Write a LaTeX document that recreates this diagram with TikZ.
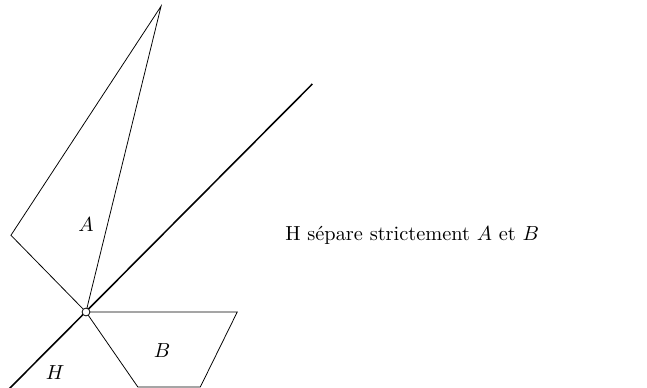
\documentclass[tikz,border=0pt]{standalone}
\usepackage{amsmath}
\usepackage{tikz}
\usetikzlibrary{positioning}

\begin{document}
\begin{tikzpicture}[every node/.append style={scale=1.05}]
        \useasboundingbox (-1.558,-1.359) rectangle (10.163,5.652);
        \coordinate (o) at (0,0);
        \coordinate (a1) at (1.36,5.54);
        \coordinate (a2) at (-1.36,1.39);
        \coordinate (b1) at (2.74,0);
        \coordinate (b2) at (2.07,-1.36);
        \coordinate (b3) at (0.94,-1.36);
        \coordinate (h1) at (-1.40,-1.40);
        \coordinate (h2) at (4.10,4.13);

        \draw (o) -- (a1) -- (a2) -- cycle;
        \draw (o) -- (b1) -- (b2) -- (b3) -- cycle;
        \draw[thick] (h1) -- (h2);
        \node[draw, circle, fill=white, inner sep=0pt, minimum size=0.135cm] (p) at (o) {};

        \node (la) at (0,1.59) {$A$};
        \node (lb) at (1.38,-0.69) {$B$};
        \node (lh) at (-0.56,-1.10) {$H$};
        \node (txt) at (5.91,1.38) {H sépare strictement $A$ et $B$};
      \end{tikzpicture}
\end{document}
